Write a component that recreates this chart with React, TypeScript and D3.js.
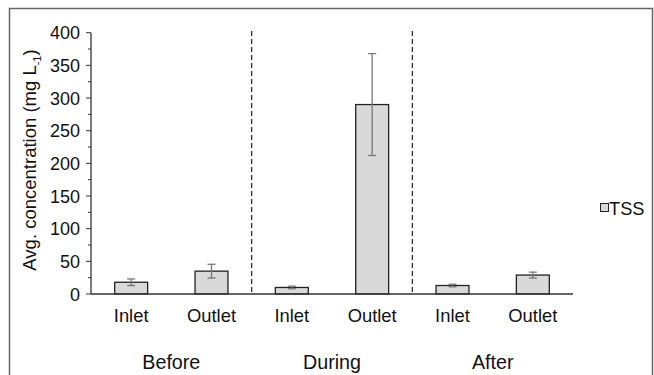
import React, { useEffect, useRef } from 'react';
import * as d3 from 'd3';

const periods = ['Before', 'During', 'After'];
const sites = ['Inlet', 'Outlet'];
const tssMean = [18, 35, 10, 290, 13, 29];
const tssErr = [5, 10.5, 2, 78, 2, 4.5];
const yTicks = [0, 50, 100, 150, 200, 250, 300, 350, 400];

const App = () => {
  const ref = useRef<SVGSVGElement>(null);

  useEffect(() => {
    const svg = d3.select(ref.current);
    svg.selectAll('*').remove();

    const font = 'Liberation Sans, Arial, sans-serif';
    const left = 91, right = 573, top = 32.7, bottom = 294;

    const cats = periods.flatMap(p => sites.map(s => `${p}-${s}`));
    const x = d3.scaleBand().domain(cats).range([left, right]).paddingInner(0.59).paddingOuter(0.295);
    const y = d3.scaleLinear().domain([0, 400]).range([bottom, top]);

    // outer frame
    svg.append('rect')
      .attr('x', 9.5).attr('y', 8.5).attr('width', 643).attr('height', 380)
      .attr('fill', 'none').attr('stroke', '#666').attr('stroke-width', 1.5);

    // y axis
    const yAxis = svg.append('g').attr('transform', `translate(${left},0)`);
    yAxis.append('line').attr('y1', y(0)).attr('y2', y(400)).attr('stroke', '#333').attr('stroke-width', 1.3);
    yAxis.selectAll('.minor')
      .data(d3.range(25, 400, 50))
      .enter().append('line')
      .attr('x1', -3).attr('x2', 0)
      .attr('y1', d => y(d)).attr('y2', d => y(d))
      .attr('stroke', '#333');
    yAxis.selectAll('.major')
      .data(yTicks)
      .enter().append('line')
      .attr('x1', -5).attr('x2', 0)
      .attr('y1', d => y(d)).attr('y2', d => y(d))
      .attr('stroke', '#333');
    yAxis.selectAll('text')
      .data(yTicks)
      .enter().append('text')
      .attr('x', -11).attr('y', d => y(d) + 6.5)
      .attr('text-anchor', 'end')
      .attr('font-family', font).attr('font-size', 18).attr('fill', '#111')
      .text(d => d);

    // y title
    const title = svg.append('text')
      .attr('transform', `translate(36,160) rotate(-90)`)
      .attr('text-anchor', 'middle')
      .attr('font-family', font).attr('font-size', 18.5).attr('fill', '#111');
    title.append('tspan').text('Avg. concentration (mg L');
    title.append('tspan').attr('font-size', 11).attr('dy', 5).text('-1');
    title.append('tspan').attr('dy', -5).text(')');

    // separators
    [2, 4].forEach(i => {
      const sx = left + (right - left) / 6 * i;
      svg.append('line')
        .attr('x1', sx).attr('x2', sx).attr('y1', 31).attr('y2', bottom)
        .attr('stroke', '#222').attr('stroke-width', 1.2).attr('stroke-dasharray', '5,3');
    });

    // bars
    svg.selectAll('.bar')
      .data(tssMean)
      .enter().append('rect')
      .attr('x', (d, i) => x(cats[i])!)
      .attr('width', x.bandwidth())
      .attr('y', d => y(d))
      .attr('height', d => bottom - y(d))
      .attr('fill', '#d9d9d9').attr('stroke', '#222').attr('stroke-width', 1.3);

    // error bars
    const eb = svg.selectAll('.err').data(tssMean).enter().append('g')
      .attr('stroke', '#777').attr('stroke-width', 1.3);
    eb.append('line')
      .attr('x1', (d, i) => x(cats[i])! + x.bandwidth() / 2)
      .attr('x2', (d, i) => x(cats[i])! + x.bandwidth() / 2)
      .attr('y1', (d, i) => y(d + tssErr[i]))
      .attr('y2', (d, i) => y(d - tssErr[i]));
    [1, -1].forEach(s => {
      eb.append('line')
        .attr('x1', (d, i) => x(cats[i])! + x.bandwidth() / 2 - 4)
        .attr('x2', (d, i) => x(cats[i])! + x.bandwidth() / 2 + 4)
        .attr('y1', (d, i) => y(d + s * tssErr[i]))
        .attr('y2', (d, i) => y(d + s * tssErr[i]));
    });

    // x axis
    svg.append('line').attr('x1', left).attr('x2', right).attr('y1', bottom).attr('y2', bottom)
      .attr('stroke', '#333').attr('stroke-width', 1.3);
    svg.selectAll('.xlab')
      .data(cats)
      .enter().append('text')
      .attr('x', d => x(d)! + x.bandwidth() / 2)
      .attr('y', 322)
      .attr('text-anchor', 'middle')
      .attr('font-family', font).attr('font-size', 18.4).attr('fill', '#111')
      .text(d => d.split('-')[1]);
    svg.selectAll('.plab')
      .data(periods)
      .enter().append('text')
      .attr('x', (d, i) => left + (right - left) / 3 * (i + 0.5))
      .attr('y', 369)
      .attr('text-anchor', 'middle')
      .attr('font-family', font).attr('font-size', 19.7).attr('fill', '#111')
      .text(d => d);

    // legend
    svg.append('rect').attr('x', 600.5).attr('y', 203.5).attr('width', 8).attr('height', 8)
      .attr('fill', '#d9d9d9').attr('stroke', '#222');
    svg.append('text').attr('x', 609).attr('y', 215)
      .attr('font-family', font).attr('font-size', 18.3).attr('fill', '#111')
      .text('TSS');
  }, []);

  return (
    <svg ref={ref} width={654} height={375}
      style={{ position: 'absolute', left: 0, top: 0, background: '#fff' }} />
  );
};

export default App;
